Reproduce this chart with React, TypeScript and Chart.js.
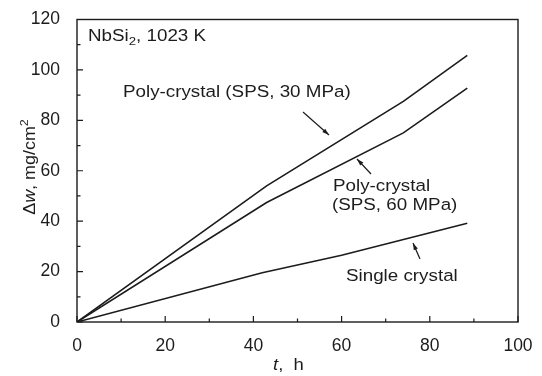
import React, { useEffect, useRef } from "react";
import { Chart, registerables } from "chart.js";
Chart.register(...registerables);

// ---- data ----
const hours30 = [0, 43, 74, 88.5];
const gain30 = [0, 54, 87.5, 105.8];
const hours60 = [0, 43, 74, 88.5];
const gain60 = [0, 47.4, 75, 92.8];
const hoursSingle = [0, 42, 60, 88.5];
const gainSingle = [0, 19.5, 26.5, 39.2];
const xTickStep = 20;
const yTickStep = 20;
const xMinorStep = 10;
const yMinorStep = 10;
const xRange = [0, 100];
const yRange = [0, 120];

const FONT = '"Liberation Sans", Arial, sans-serif';
const INK = "#1c1c1c";
const SX = 1.12;
const ANN = 16.8;

type Seg = { t: string; it?: boolean; sub?: boolean; sup?: boolean };

function richWidth(ctx: CanvasRenderingContext2D, segs: Seg[], size: number) {
  let w = 0;
  for (const s of segs) {
    const fs = s.sub || s.sup ? size * 0.7 : size;
    ctx.font = `${s.it ? "italic " : ""}${fs}px ${FONT}`;
    w += ctx.measureText(s.t).width;
  }
  return w;
}

function drawRich(ctx: CanvasRenderingContext2D, segs: Seg[], size: number) {
  let x = 0;
  for (const s of segs) {
    const fs = s.sub || s.sup ? size * 0.7 : size;
    ctx.font = `${s.it ? "italic " : ""}${fs}px ${FONT}`;
    const dy = s.sub ? size * 0.22 : s.sup ? -size * 0.42 : 0;
    ctx.fillText(s.t, x, dy);
    x += ctx.measureText(s.t).width;
  }
}

function textAt(ctx: CanvasRenderingContext2D, x: number, y: number, segs: Seg[], size = ANN) {
  ctx.save();
  ctx.translate(x, y);
  ctx.scale(SX, 1);
  ctx.fillStyle = INK;
  ctx.textBaseline = "alphabetic";
  ctx.textAlign = "left";
  drawRich(ctx, segs, size);
  ctx.restore();
}

function arrow(ctx: CanvasRenderingContext2D, x1: number, y1: number, x2: number, y2: number) {
  ctx.save();
  ctx.strokeStyle = INK;
  ctx.fillStyle = INK;
  ctx.lineWidth = 1.2;
  ctx.beginPath();
  ctx.moveTo(x1, y1);
  ctx.lineTo(x2, y2);
  ctx.stroke();
  const a = Math.atan2(y2 - y1, x2 - x1);
  const L = 7, W = 2.2;
  ctx.beginPath();
  ctx.moveTo(x2, y2);
  ctx.lineTo(x2 - L * Math.cos(a) + W * Math.sin(a), y2 - L * Math.sin(a) - W * Math.cos(a));
  ctx.lineTo(x2 - L * Math.cos(a) - W * Math.sin(a), y2 - L * Math.sin(a) + W * Math.cos(a));
  ctx.closePath();
  ctx.fill();
  ctx.restore();
}

const decor = {
  id: "decor",
  afterDraw(chart: any) {
    const ctx: CanvasRenderingContext2D = chart.ctx;
    const xs = chart.scales.x;
    const ys = chart.scales.y;
    const { left, right, top, bottom } = chart.chartArea;
    ctx.save();
    ctx.strokeStyle = INK;
    ctx.lineWidth = 1.4;
    ctx.strokeRect(left, top, right - left, bottom - top);
    // inward ticks
    ctx.lineWidth = 1.2;
    ctx.beginPath();
    for (let v = xRange[0]; v <= xRange[1]; v += xMinorStep) {
      const px = xs.getPixelForValue(v);
      const len = v % xTickStep === 0 ? 6 : 3.5;
      ctx.moveTo(px, bottom);
      ctx.lineTo(px, bottom - len);
    }
    for (let v = yRange[0]; v <= yRange[1]; v += yMinorStep) {
      const py = ys.getPixelForValue(v);
      const len = v % yTickStep === 0 ? 6 : 3.5;
      ctx.moveTo(left, py);
      ctx.lineTo(left + len, py);
    }
    ctx.stroke();
    ctx.restore();

    // annotations
    textAt(ctx, 88, 41, [{ t: "NbSi" }, { t: "2", sub: true }, { t: ", 1023 K" }]);
    textAt(ctx, 123, 97, [{ t: "Poly-crystal (SPS, 30 MPa)" }]);
    textAt(ctx, 333, 191, [{ t: "Poly-crystal" }]);
    textAt(ctx, 332, 210, [{ t: "(SPS, 60 MPa)" }]);
    textAt(ctx, 346, 281, [{ t: "Single crystal" }]);
    arrow(ctx, 303, 112, 329, 135);
    arrow(ctx, 371, 174, 357, 159);
    arrow(ctx, 420, 259, 413, 243);

    // axis titles
    const xt: Seg[] = [{ t: "t", it: true }, { t: ",  h" }];
    textAt(ctx, 273, 370, xt, 16.5);
    const yt: Seg[] = [{ t: "Δ" }, { t: "w", it: true }, { t: ", mg/cm" }, { t: "2", sup: true }];
    ctx.save();
    ctx.translate(35, 167);
    ctx.rotate(-Math.PI / 2);
    ctx.scale(SX, 1);
    ctx.fillStyle = INK;
    const w = richWidth(ctx, yt, 16);
    ctx.translate(-w / 2, 0);
    drawRich(ctx, yt, 16);
    ctx.restore();
  },
};

export default function App() {
  const ref = useRef<HTMLCanvasElement | null>(null);
  useEffect(() => {
    if (!ref.current) return;
    const mk = (xs: number[], ys: number[]) => xs.map((x, i) => ({ x, y: ys[i] }));
    const lineStyle = {
      borderColor: INK,
      borderWidth: 1.6,
      pointRadius: 0,
      tension: 0,
      fill: false,
    };
    const chart = new Chart(ref.current, {
      type: "line",
      data: {
        datasets: [
          { label: "Poly-crystal (SPS, 30 MPa)", data: mk(hours30, gain30), ...lineStyle },
          { label: "Poly-crystal (SPS, 60 MPa)", data: mk(hours60, gain60), ...lineStyle },
          { label: "Single crystal", data: mk(hoursSingle, gainSingle), ...lineStyle },
        ],
      },
      options: {
        animation: false,
        responsive: false,
        layout: { padding: { top: 13, right: 24, left: 0, bottom: 0 } },
        plugins: { legend: { display: false }, tooltip: { enabled: false } },
        scales: {
          x: {
            type: "linear",
            min: xRange[0],
            max: xRange[1],
            grid: { display: false },
            border: { display: false },
            ticks: { stepSize: xTickStep, padding: 6, color: INK, font: { family: FONT, size: 17.5 } },
            afterFit: (s: any) => { s.height = 54; },
          },
          y: {
            type: "linear",
            min: yRange[0],
            max: yRange[1],
            grid: { display: false },
            border: { display: false },
            ticks: { stepSize: yTickStep, padding: 9, color: INK, font: { family: FONT, size: 17.5 } },
            afterFit: (s: any) => { s.width = 77; },
          },
        },
      } as any,
      plugins: [decor],
    });
    return () => chart.destroy();
  }, []);
  return (
    <div style={{ position: "absolute", left: 0, top: 0, width: 542, height: 376, background: "#fff" }}>
      <canvas ref={ref} width={542} height={376} />
    </div>
  );
}
